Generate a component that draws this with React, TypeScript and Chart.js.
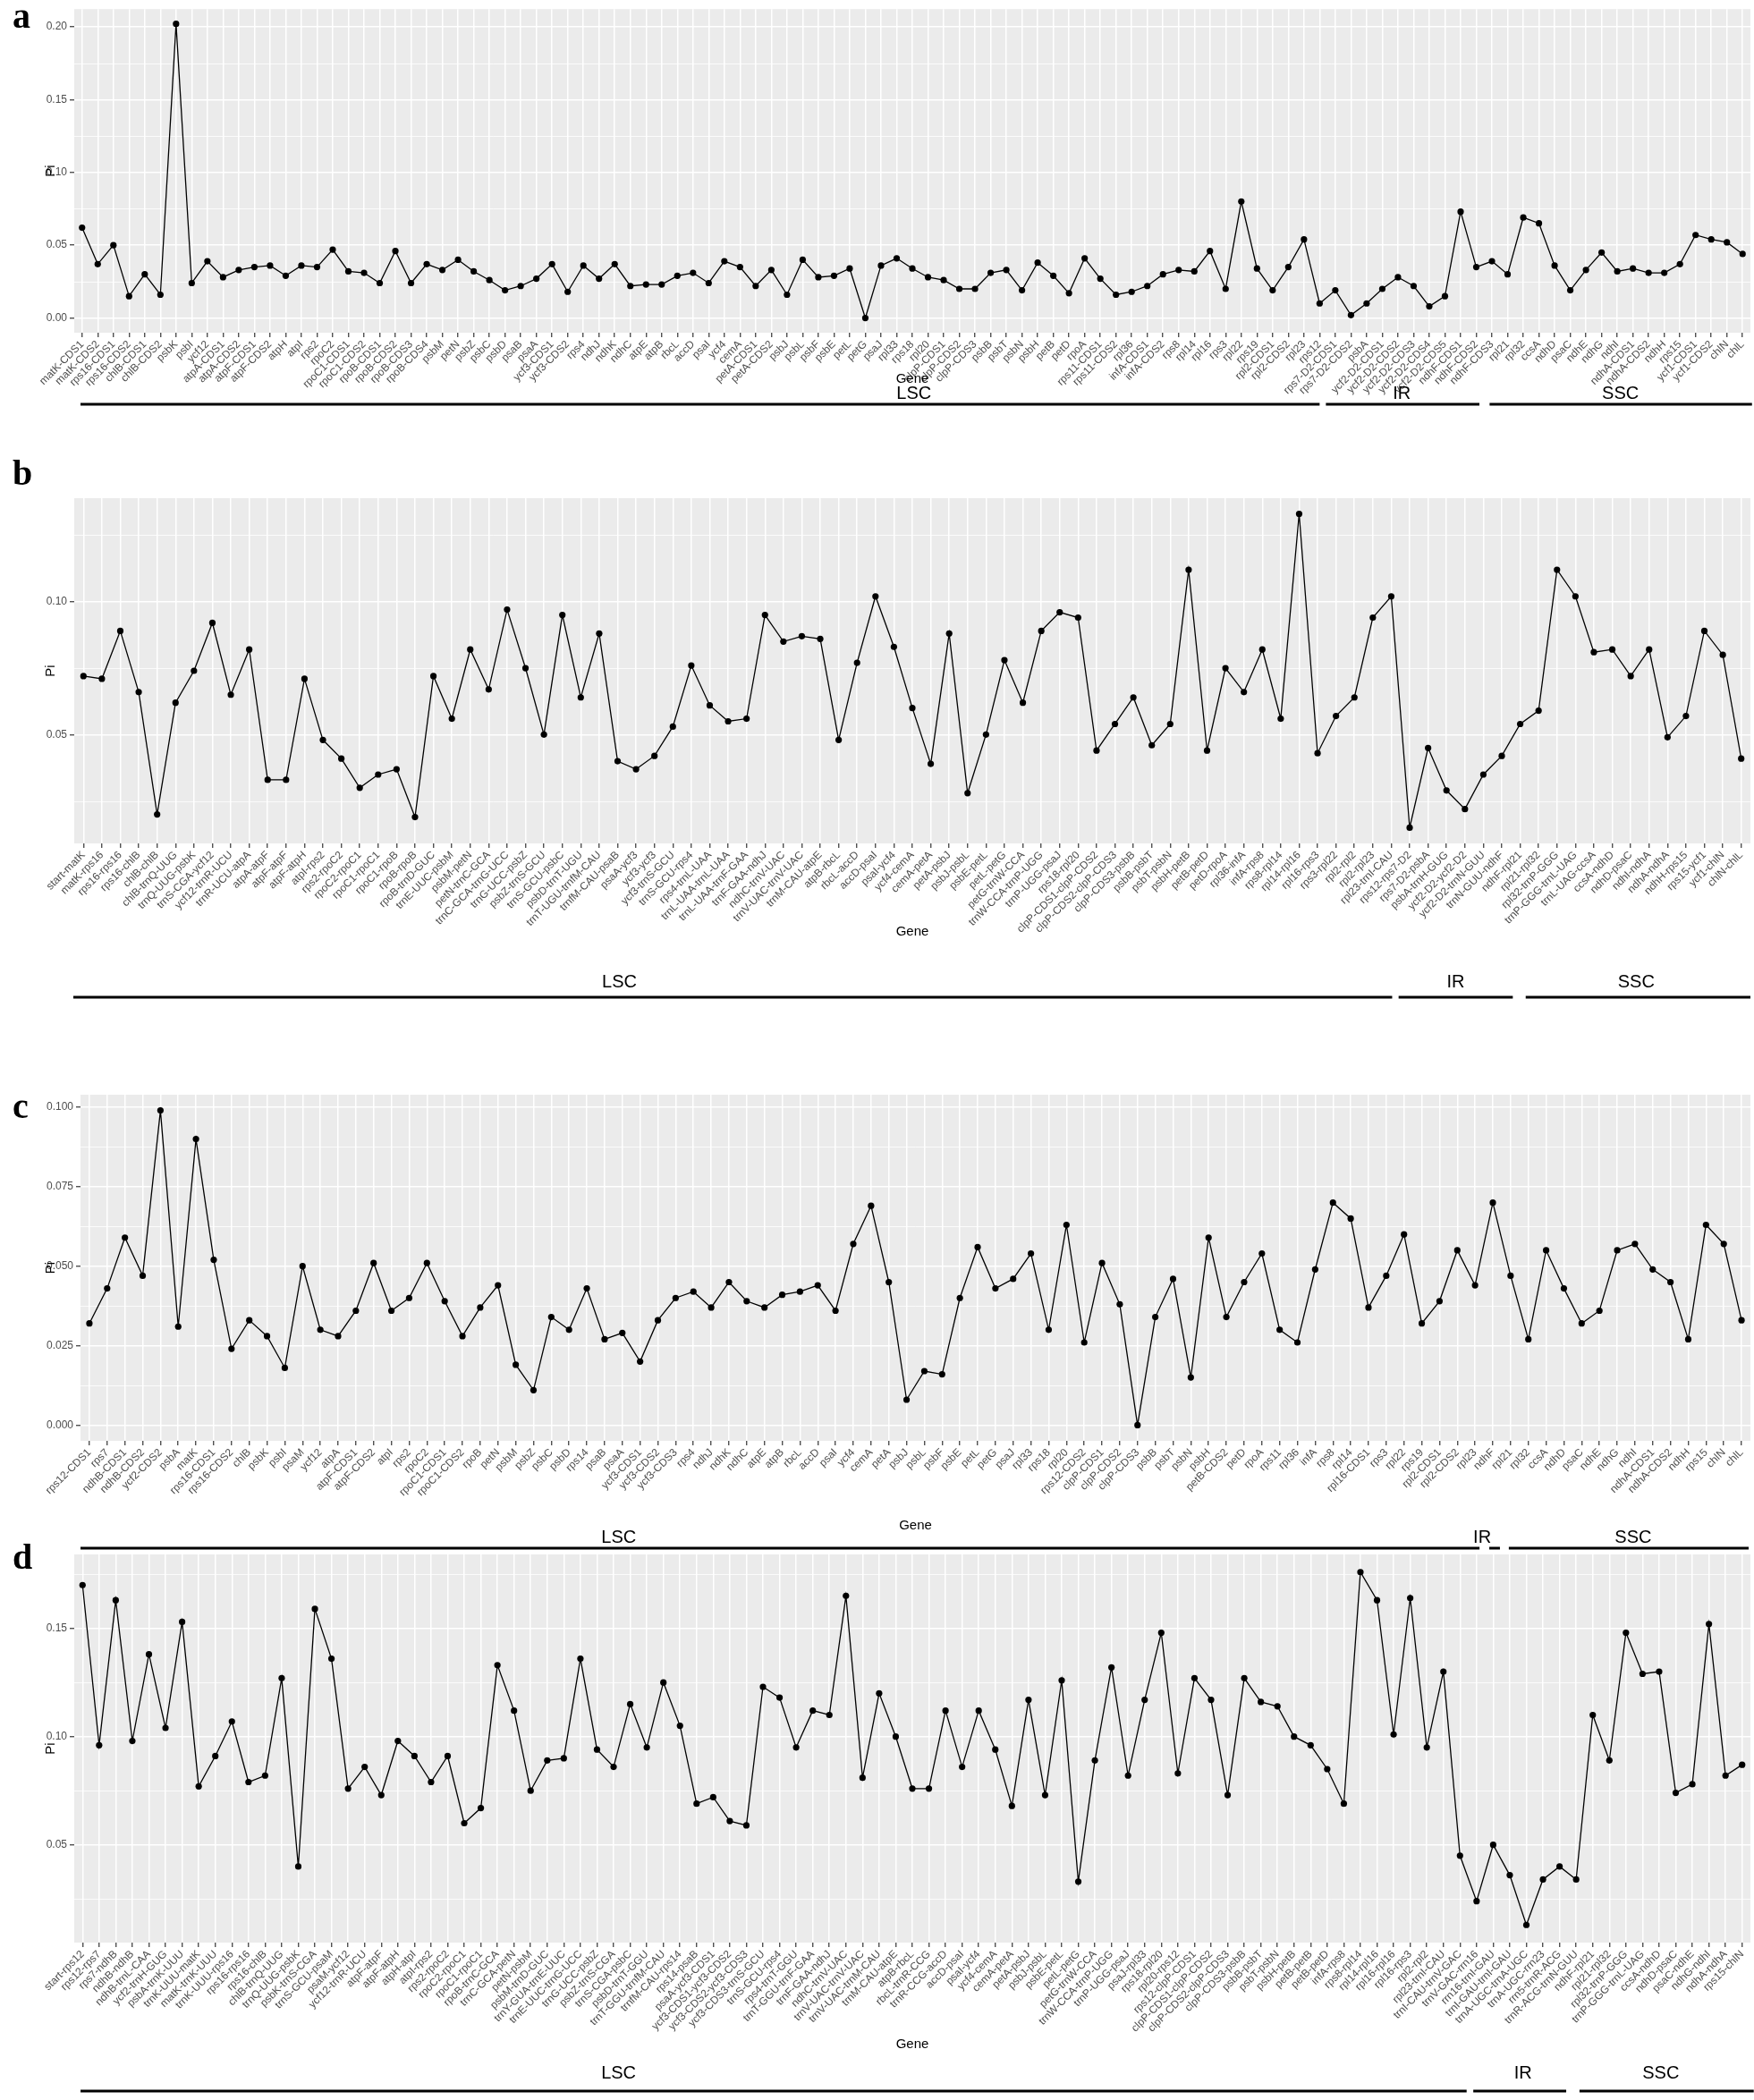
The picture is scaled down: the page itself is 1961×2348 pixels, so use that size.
import React, { useEffect, useRef } from "react";
import { Chart, registerables } from "chart.js";
Chart.register(...registerables);

// ---------------- Panel a ----------------
const aGenes = ["matK-CDS1","matK-CDS2","rps16-CDS1","rps16-CDS2","chlB-CDS1","chlB-CDS2","psbK","psbI","ycf12","atpA-CDS1","atpA-CDS2","atpF-CDS1","atpF-CDS2","atpH","atpI","rps2","rpoC2","rpoC1-CDS1","rpoC1-CDS2","rpoB-CDS1","rpoB-CDS2","rpoB-CDS3","rpoB-CDS4","psbM","petN","psbZ","psbC","psbD","psaB","psaA","ycf3-CDS1","ycf3-CDS2","rps4","ndhJ","ndhK","ndhC","atpE","atpB","rbcL","accD","psaI","ycf4","cemA","petA-CDS1","petA-CDS2","psbJ","psbL","psbF","psbE","petL","petG","psaJ","rpl33","rps18","rpl20","clpP-CDS1","clpP-CDS2","clpP-CDS3","psbB","psbT","psbN","psbH","petB","petD","rpoA","rps11-CDS1","rps11-CDS2","rpl36","infA-CDS1","infA-CDS2","rps8","rpl14","rpl16","rps3","rpl22","rps19","rpl2-CDS1","rpl2-CDS2","rpl23","rps12","rps7-D2-CDS1","rps7-D2-CDS2","psbA","ycf2-D2-CDS1","ycf2-D2-CDS2","ycf2-D2-CDS3","ycf2-D2-CDS4","ycf2-D2-CDS5","ndhF-CDS1","ndhF-CDS2","ndhF-CDS3","rpl21","rpl32","ccsA","ndhD","psaC","ndhE","ndhG","ndhI","ndhA-CDS1","ndhA-CDS2","ndhH","rps15","ycf1-CDS1","ycf1-CDS2","chlN","chlL"];
const aPi = [0.062,0.037,0.050,0.015,0.030,0.016,0.202,0.024,0.039,0.028,
  0.033,0.035,0.036,0.029,0.036,0.035,0.047,0.032,0.031,0.024,
  0.046,0.024,0.037,0.033,0.040,0.032,0.026,0.019,0.022,0.027,
  0.037,0.018,0.036,0.027,0.037,0.022,0.023,0.023,0.029,0.031,
  0.024,0.039,0.035,0.022,0.033,0.016,0.040,0.028,0.029,0.034,
  0.000,0.036,0.041,0.034,0.028,0.026,0.020,0.020,0.031,0.033,
  0.019,0.038,0.029,0.017,0.041,0.027,0.016,0.018,0.022,0.030,
  0.033,0.032,0.046,0.020,0.080,0.034,0.019,0.035,0.054,0.010,
  0.019,0.002,0.010,0.020,0.028,0.022,0.008,0.015,0.073,0.035,
  0.039,0.030,0.069,0.065,0.036,0.019,0.033,0.045,0.032,0.034,
  0.031,0.031,0.037,0.057,0.054,0.052,0.044];
const aYTicks = [0, 0.05, 0.1, 0.15, 0.2];
const aRegions = ["LSC", "IR", "SSC"];
const aRegionStart = [-0.1, 79.4, 89.85];
const aRegionEnd = [79.0, 89.2, 106.6];
const aRegionLabelAt = [53.1, 84.25, 98.2];

// ---------------- Panel b ----------------
const bGenes = ["start-matK","matK-rps16","rps16-rps16","rps16-chlB","chlB-chlB","chlB-trnQ-UUG","trnQ-UUG-psbK","trnS-CGA-ycf12","ycf12-trnR-UCU","trnR-UCU-atpA","atpA-atpF","atpF-atpF","atpF-atpH","atpI-rps2","rps2-rpoC2","rpoC2-rpoC1","rpoC1-rpoC1","rpoC1-rpoB","rpoB-rpoB","rpoB-trnD-GUC","trnE-UUC-psbM","psbM-petN","petN-trnC-GCA","trnC-GCA-trnG-UCC","trnG-UCC-psbZ","psbZ-trnS-GCU","trnS-GCU-psbC","psbD-trnT-UGU","trnT-UGU-trnfM-CAU","trnfM-CAU-psaB","psaA-ycf3","ycf3-ycf3","ycf3-trnS-GCU","trnS-GCU-rps4","rps4-trnL-UAA","trnL-UAA-trnL-UAA","trnL-UAA-trnF-GAA","trnF-GAA-ndhJ","ndhC-trnV-UAC","trnV-UAC-trnV-UAC","trnM-CAU-atpE","atpB-rbcL","rbcL-accD","accD-psaI","psaI-ycf4","ycf4-cemA","cemA-petA","petA-psbJ","psbJ-psbL","psbE-petL","petL-petG","petG-trnW-CCA","trnW-CCA-trnP-UGG","trnP-UGG-psaJ","rps18-rpl20","clpP-CDS1-clpP-CDS2","clpP-CDS2-clpP-CDS3","clpP-CDS3-psbB","psbB-psbT","psbT-psbN","psbH-petB","petB-petD","petD-rpoA","rpl36-infA","infA-rps8","rps8-rpl14","rpl14-rpl16","rpl16-rps3","rps3-rpl22","rpl2-rpl2","rpl2-rpl23","rpl23-trnI-CAU","rps12-rps7-D2","rps7-D2-psbA","psbA-trnH-GUG","ycf2-D2-ycf2-D2","ycf2-D2-trnN-GUU","trnN-GUU-ndhF","ndhF-rpl21","rpl21-rpl32","rpl32-trnP-GGG","trnP-GGG-trnL-UAG","trnL-UAG-ccsA","ccsA-ndhD","ndhD-psaC","ndhI-ndhA","ndhA-ndhA","ndhH-rps15","rps15-ycf1","ycf1-chlN","chlN-chlL"];
const bPi = [0.072,0.071,0.089,0.066,0.020,0.062,0.074,0.092,0.065,0.082,
  0.033,0.033,0.071,0.048,0.041,0.030,0.035,0.037,0.019,0.072,
  0.056,0.082,0.067,0.097,0.075,0.050,0.095,0.064,0.088,0.040,
  0.037,0.042,0.053,0.076,0.061,0.055,0.056,0.095,0.085,0.087,
  0.086,0.048,0.077,0.102,0.083,0.060,0.039,0.088,0.028,0.050,
  0.078,0.062,0.089,0.096,0.094,0.044,0.054,0.064,0.046,0.054,
  0.112,0.044,0.075,0.066,0.082,0.056,0.133,0.043,0.057,0.064,
  0.094,0.102,0.015,0.045,0.029,0.022,0.035,0.042,0.054,0.059,
  0.112,0.102,0.081,0.082,0.072,0.082,0.049,0.057,0.089,0.080,
  0.041];
const bYTicks = [0.05, 0.1];
const bRegions = ["LSC", "IR", "SSC"];
const bRegionStart = [-0.55, 71.4, 78.3];
const bRegionEnd = [71.05, 77.6, 90.5];
const bRegionLabelAt = [29.1, 74.5, 84.3];

// ---------------- Panel c ----------------
const cGenes = ["rps12-CDS1","rps7","ndhB-CDS1","ndhB-CDS2","ycf2-CDS2","psbA","matK","rps16-CDS1","rps16-CDS2","chlB","psbK","psbI","psaM","ycf12","atpA","atpF-CDS1","atpF-CDS2","atpI","rps2","rpoC2","rpoC1-CDS1","rpoC1-CDS2","rpoB","petN","psbM","psbZ","psbC","psbD","rps14","psaB","psaA","ycf3-CDS1","ycf3-CDS2","ycf3-CDS3","rps4","ndhJ","ndhK","ndhC","atpE","atpB","rbcL","accD","psaI","ycf4","cemA","petA","psbJ","psbL","psbF","psbE","petL","petG","psaJ","rpl33","rps18","rpl20","rps12-CDS2","clpP-CDS1","clpP-CDS2","clpP-CDS3","psbB","psbT","psbN","psbH","petB-CDS2","petD","rpoA","rps11","rpl36","infA","rps8","rpl14","rpl16-CDS1","rps3","rpl22","rps19","rpl2-CDS1","rpl2-CDS2","rpl23","ndhF","rpl21","rpl32","ccsA","ndhD","psaC","ndhE","ndhG","ndhI","ndhA-CDS1","ndhA-CDS2","ndhH","rps15","chlN","chlL"];
const cPi = [0.032,0.043,0.059,0.047,0.099,0.031,0.090,0.052,0.024,0.033,
  0.028,0.018,0.050,0.030,0.028,0.036,0.051,0.036,0.040,0.051,
  0.039,0.028,0.037,0.044,0.019,0.011,0.034,0.030,0.043,0.027,
  0.029,0.020,0.033,0.040,0.042,0.037,0.045,0.039,0.037,0.041,
  0.042,0.044,0.036,0.057,0.069,0.045,0.008,0.017,0.016,0.040,
  0.056,0.043,0.046,0.054,0.030,0.063,0.026,0.051,0.038,0.000,
  0.034,0.046,0.015,0.059,0.034,0.045,0.054,0.030,0.026,0.049,
  0.070,0.065,0.037,0.047,0.060,0.032,0.039,0.055,0.044,0.070,
  0.047,0.027,0.055,0.043,0.032,0.036,0.055,0.057,0.049,0.045,
  0.027,0.063,0.057,0.033];
const cYTicks = [0, 0.025, 0.05, 0.075, 0.1];
const cRegions = ["LSC", "IR", "SSC"];
const cRegionStart = [-0.5, 78.8, 79.9];
const cRegionEnd = [78.25, 79.4, 93.4];
const cRegionLabelAt = [29.8, 78.4, 86.9];

// ---------------- Panel d ----------------
const dGenes = ["start-rps12","rps12-rps7","rps7-ndhB","ndhB-ndhB","ndhB-trnL-CAA","ycf2-trnH-GUG","psbA-trnK-UUU","trnK-UUU-matK","matK-trnK-UUU","trnK-UUU-rps16","rps16-rps16","rps16-chlB","chlB-trnQ-UUG","trnQ-UUG-psbK","psbK-trnS-CGA","trnS-GCU-psaM","psaM-ycf12","ycf12-trnR-UCU","atpF-atpF","atpF-atpH","atpH-atpI","atpI-rps2","rps2-rpoC2","rpoC2-rpoC1","rpoC1-rpoC1","rpoB-trnC-GCA","trnC-GCA-petN","petN-psbM","psbM-trnD-GUC","trnY-GUA-trnE-UUC","trnE-UUC-trnG-UCC","trnG-UCC-psbZ","psbZ-trnS-CGA","trnS-CGA-psbC","psbD-trnT-GGU","trnT-GGU-trnfM-CAU","trnfM-CAU-rps14","rps14-psaB","psaA-ycf3-CDS1","ycf3-CDS1-ycf3-CDS2","ycf3-CDS2-ycf3-CDS3","ycf3-CDS3-trnS-GCU","trnS-GCU-rps4","rps4-trnT-GGU","trnT-GGU-trnF-GAA","trnF-GAA-ndhJ","ndhC-trnV-UAC","trnV-UAC-trnV-UAC","trnV-UAC-trnM-CAU","trnM-CAU-atpE","atpB-rbcL","rbcL-trnR-CCG","trnR-CCG-accD","accD-psaI","psaI-ycf4","ycf4-cemA","cemA-petA","petA-psbJ","psbJ-psbL","psbE-petL","petL-petG","petG-trnW-CCA","trnW-CCA-trnP-UGG","trnP-UGG-psaJ","psaJ-rpl33","rps18-rpl20","rpl20-rps12","rps12-clpP-CDS1","clpP-CDS1-clpP-CDS2","clpP-CDS2-clpP-CDS3","clpP-CDS3-psbB","psbB-psbT","psbT-psbN","psbH-petB","petB-petB","petB-petD","infA-rps8","rps8-rpl14","rpl14-rpl16","rpl16-rpl16","rpl16-rps3","rpl2-rpl2","rpl23-trnI-CAU","trnI-CAU-trnV-GAC","trnV-GAC-rrn16","rrn16-trnI-GAU","trnI-GAU-trnI-GAU","trnA-UGC-trnA-UGC","trnA-UGC-rrn23","rrn5-trnR-ACG","trnR-ACG-trnN-GUU","ndhF-rpl21","rpl21-rpl32","rpl32-trnP-GGG","trnP-GGG-trnL-UAG","ccsA-ndhD","ndhD-psaC","psaC-ndhE","ndhG-ndhI","ndhA-ndhA","rps15-chlN"];
const dPi = [0.170,0.096,0.163,0.098,0.138,0.104,0.153,0.077,0.091,0.107,
  0.079,0.082,0.127,0.040,0.159,0.136,0.076,0.086,0.073,0.098,
  0.091,0.079,0.091,0.060,0.067,0.133,0.112,0.075,0.089,0.090,
  0.136,0.094,0.086,0.115,0.095,0.125,0.105,0.069,0.072,0.061,
  0.059,0.123,0.118,0.095,0.112,0.110,0.165,0.081,0.120,0.100,
  0.076,0.076,0.112,0.086,0.112,0.094,0.068,0.117,0.073,0.126,
  0.033,0.089,0.132,0.082,0.117,0.148,0.083,0.127,0.117,0.073,
  0.127,0.116,0.114,0.100,0.096,0.085,0.069,0.176,0.163,0.101,
  0.164,0.095,0.130,0.045,0.024,0.050,0.036,0.013,0.034,0.040,
  0.034,0.110,0.089,0.148,0.129,0.130,0.074,0.078,0.152,0.082,
  0.087];
const dYTicks = [0.05, 0.1, 0.15];
const dRegions = ["LSC", "IR", "SSC"];
const dRegionStart = [-0.12, 83.8, 90.2];
const dRegionEnd = [83.4, 89.4, 100.7];
const dRegionLabelAt = [32.3, 86.8, 95.1];

// ---------------- layout ----------------
const W = 1961;
const SANS = "'Liberation Sans', Arial, Helvetica, sans-serif";
const SERIF = "'Liberation Serif', 'Times New Roman', serif";

type Spec = {
  letter: string;
  genes: string[];
  pi: number[];
  yTicks: number[];
  decimals: number;
  regions: string[];
  rStart: number[];
  rEnd: number[];
  rLabel: number[];
  canvasTop: number;
  canvasH: number;
  plotTop: number;
  plotBottom: number;
  plotLeft: number;
  plotRight: number;
  geneY: number;
  regionLabelY: number;
  barY: number;
  letterY: number;
};

const specs: Spec[] = [
  { letter: "a", genes: aGenes, pi: aPi, yTicks: aYTicks, decimals: 2, regions: aRegions, rStart: aRegionStart, rEnd: aRegionEnd, rLabel: aRegionLabelAt,
    canvasTop: 0, canvasH: 470, plotTop: 7, plotBottom: 372, plotLeft: 83, plotRight: 1957, geneY: 424, regionLabelY: 440, barY: 452, letterY: 31 },
  { letter: "b", genes: bGenes, pi: bPi, yTicks: bYTicks, decimals: 2, regions: bRegions, rStart: bRegionStart, rEnd: bRegionEnd, rLabel: bRegionLabelAt,
    canvasTop: 470, canvasH: 660, plotTop: 557, plotBottom: 943, plotLeft: 83, plotRight: 1957, geneY: 1042, regionLabelY: 1098, barY: 1115, letterY: 542 },
  { letter: "c", genes: cGenes, pi: cPi, yTicks: cYTicks, decimals: 3, regions: cRegions, rStart: cRegionStart, rEnd: cRegionEnd, rLabel: cRegionLabelAt,
    canvasTop: 1130, canvasH: 620, plotTop: 1224, plotBottom: 1611, plotLeft: 90, plotRight: 1957, geneY: 1706, regionLabelY: 1719, barY: 1731, letterY: 1250 },
  { letter: "d", genes: dGenes, pi: dPi, yTicks: dYTicks, decimals: 2, regions: dRegions, rStart: dRegionStart, rEnd: dRegionEnd, rLabel: dRegionLabelAt,
    canvasTop: 1700, canvasH: 648, plotTop: 1738, plotBottom: 2172, plotLeft: 83, plotRight: 1957, geneY: 2286, regionLabelY: 2318, barY: 2338, letterY: 1754 },
];

function Panel({ spec }: { spec: Spec }) {
  const ref = useRef<HTMLCanvasElement | null>(null);
  useEffect(() => {
    if (!ref.current) return;
    const dmin = Math.min(...spec.pi);
    const dmax = Math.max(...spec.pi);
    const pad = (dmax - dmin) * 0.05;
    const yMin = dmin - pad;
    const yMax = dmax + pad;
    const top = spec.canvasTop;
    const xAxisH = spec.canvasH - (spec.plotBottom - top);

    const plugin = {
      id: "ggpanel_" + spec.letter,
      beforeDraw(chart: any) {
        const { ctx, chartArea: ca } = chart;
        ctx.save();
        ctx.fillStyle = "#EBEBEB";
        ctx.fillRect(ca.left, ca.top, ca.right - ca.left, ca.bottom - ca.top);
        ctx.restore();
      },
      beforeDatasetsDraw(chart: any) {
        const { ctx, chartArea: ca } = chart;
        const ys = chart.scales.y;
        const t = spec.yTicks;
        const step = t.length > 1 ? t[1] - t[0] : 0.05;
        ctx.save();
        ctx.strokeStyle = "#FFFFFF";
        ctx.lineWidth = 0.8;
        for (let k = -1; k < t.length; k++) {
          const v = t[0] + step * (k + 0.5);
          if (v < ys.min || v > ys.max) continue;
          const py = Math.round(ys.getPixelForValue(v)) + 0.5;
          ctx.beginPath();
          ctx.moveTo(ca.left, py);
          ctx.lineTo(ca.right, py);
          ctx.stroke();
        }
        ctx.restore();
      },
      afterDraw(chart: any) {
        const { ctx, chartArea: ca } = chart;
        const xs = chart.scales.x;
        ctx.save();
        ctx.fillStyle = "#000000";
        ctx.font = `15px ${SANS}`;
        ctx.textAlign = "center";
        ctx.textBaseline = "middle";
        ctx.save();
        ctx.translate(57, (ca.top + ca.bottom) / 2);
        ctx.rotate(-Math.PI / 2);
        ctx.fillText("Pi", 0, 0);
        ctx.restore();
        ctx.fillText("Gene", (ca.left + ca.right) / 2, spec.geneY - top);
        ctx.strokeStyle = "#000000";
        ctx.lineWidth = 3;
        ctx.font = `20px ${SANS}`;
        for (let i = 0; i < spec.regions.length; i++) {
          const x1 = xs.getPixelForValue(spec.rStart[i]);
          const x2 = xs.getPixelForValue(spec.rEnd[i]);
          ctx.beginPath();
          ctx.moveTo(x1, spec.barY - top);
          ctx.lineTo(x2, spec.barY - top);
          ctx.stroke();
          ctx.fillText(spec.regions[i], xs.getPixelForValue(spec.rLabel[i]), spec.regionLabelY - top);
        }
        ctx.font = `bold 40px ${SERIF}`;
        ctx.textAlign = "left";
        ctx.textBaseline = "alphabetic";
        ctx.fillText(spec.letter, 14, spec.letterY - top);
        ctx.restore();
      },
    };

    const chart = new Chart(ref.current, {
      type: "line",
      data: {
        labels: spec.genes,
        datasets: [
          {
            data: spec.pi,
            borderColor: "#000000",
            borderWidth: 1.3,
            backgroundColor: "#000000",
            pointBackgroundColor: "#000000",
            pointBorderWidth: 0,
            pointRadius: 3.6,
            tension: 0,
            fill: false,
          },
        ],
      },
      options: {
        animation: false,
        responsive: false,
        maintainAspectRatio: false,
        devicePixelRatio: 1,
        layout: { padding: { top: spec.plotTop - top, right: W - spec.plotRight, left: 0, bottom: 0 } },
        plugins: { legend: { display: false }, tooltip: { enabled: false }, title: { display: false } },
        scales: {
          x: {
            type: "category",
            offset: true,
            grid: { offset: false, color: "#FFFFFF", lineWidth: 1.5, drawTicks: true, tickLength: 5, tickColor: "#333333", tickWidth: 1.2 },
            border: { display: false },
            ticks: {
              autoSkip: false,
              maxRotation: 45,
              minRotation: 45,
              color: "#4D4D4D",
              font: { family: SANS, size: 12 },
              padding: 1,
            },
            afterFit(scale: any) {
              scale.height = xAxisH;
            },
          },
          y: {
            type: "linear",
            min: yMin,
            max: yMax,
            afterBuildTicks(scale: any) {
              scale.ticks = spec.yTicks.map((v) => ({ value: v }));
            },
            grid: { color: "#FFFFFF", lineWidth: 1.5, drawTicks: true, tickLength: 5, tickColor: "#333333", tickWidth: 1.2 },
            border: { display: false },
            ticks: {
              color: "#4D4D4D",
              font: { family: SANS, size: 12 },
              padding: 3,
              callback: (v: any) => Number(v).toFixed(spec.decimals),
            },
            afterFit(scale: any) {
              scale.width = spec.plotLeft;
            },
          },
        },
      },
      plugins: [plugin],
    } as any);
    return () => chart.destroy();
  }, [spec]);

  return (
    <canvas
      ref={ref}
      width={W}
      height={spec.canvasH}
      style={{ position: "absolute", left: 0, top: spec.canvasTop, width: W, height: spec.canvasH, display: "block" }}
    />
  );
}

export default function App() {
  return (
    <div style={{ position: "absolute", left: 0, top: 0, width: W, height: 2348, background: "#FFFFFF", overflow: "hidden" }}>
      {specs.map((s) => (
        <Panel key={s.letter} spec={s} />
      ))}
    </div>
  );
}
